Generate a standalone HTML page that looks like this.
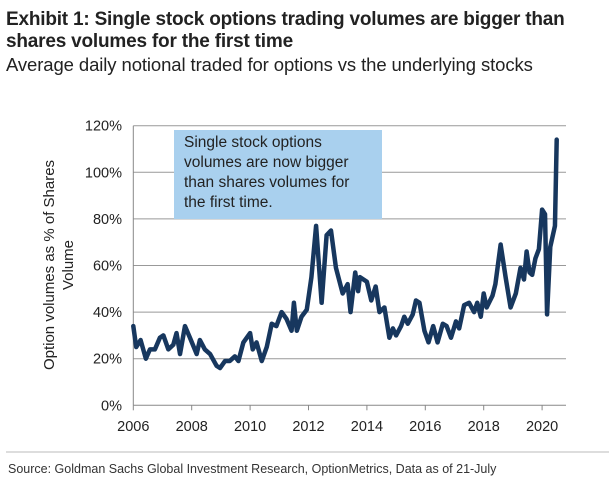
<!DOCTYPE html>
<html><head><meta charset="utf-8"><style>
body{margin:0;background:#fff;font-family:"Liberation Sans",Arial,sans-serif;}
#wrap{position:relative;width:615px;height:489px;overflow:hidden;}
.t{position:absolute;left:6px;color:#222;white-space:nowrap;}
</style></head><body>
<div id="wrap">
<div class="t" style="top:9px;font-size:19px;font-weight:bold;line-height:22px;letter-spacing:-0.2px;">Exhibit 1: Single stock options trading volumes are bigger than<br>shares volumes for the first time</div>
<div class="t" style="top:54px;font-size:18.5px;letter-spacing:-0.1px;">Average daily notional traded for options vs the underlying stocks</div>
<svg id="svg" width="615" height="489" style="position:absolute;left:0;top:0"></svg>
<div style="position:absolute;left:174px;top:130px;width:198px;height:77px;background:#a9d0ee;padding:3px 0 9px 10px;font-size:15.5px;line-height:20px;color:#222;white-space:nowrap;">Single stock options<br>volumes are now bigger<br>than shares volumes for<br>the first time.</div>
<div class="t" style="top:462px;left:8px;font-size:12.5px;color:#333;">Source: Goldman Sachs Global Investment Research, OptionMetrics, Data as of 21-July</div>
</div>
<script>
const years=[2006.0,2006.1,2006.25,2006.43,2006.57,2006.74,2006.91,2007.03,2007.2,2007.37,2007.48,2007.6,2007.77,2007.94,2008.17,2008.28,2008.45,2008.63,2008.85,2008.97,2009.14,2009.3,2009.48,2009.6,2009.77,2010.0,2010.09,2010.22,2010.4,2010.57,2010.74,2010.9,2011.08,2011.25,2011.42,2011.5,2011.6,2011.76,2011.94,2012.1,2012.26,2012.45,2012.62,2012.77,2012.94,2013.17,2013.34,2013.44,2013.6,2013.7,2013.76,2014.0,2014.15,2014.3,2014.43,2014.6,2014.77,2014.89,2015.0,2015.17,2015.28,2015.4,2015.57,2015.68,2015.8,2015.97,2016.11,2016.27,2016.42,2016.6,2016.73,2016.88,2017.05,2017.16,2017.33,2017.5,2017.67,2017.78,2017.9,2018.0,2018.1,2018.3,2018.4,2018.58,2018.75,2018.92,2019.1,2019.26,2019.38,2019.47,2019.57,2019.66,2019.77,2019.89,2020.0,2020.1,2020.17,2020.28,2020.44,2020.5];
const values=[34,25,28,20,24,24,29,30,24,26,31,22,34,29,22,28,24,22,17,16,19,19,21,19,27,31,24,27,19,25,35,34,40,37,32,44,32,38,41,55,77,44,73,75,59,48,52,40,57,49,55,53,45,51,40,42,29,33,30,34,38,35,39,45,44,32,27,34,27,35,34,29,36,33,43,44,40,44,38,48,42,47,52,69,55,42,48,59,54,66,57,56,63,67,84,82,39,68,77,114];
const yTicks=[0,20,40,60,80,100,120];
const xTicks=[2006,2008,2010,2012,2014,2016,2018,2020];
const NS="http://www.w3.org/2000/svg",svg=document.getElementById('svg');
const X0=133.3,X1=566,Y0=405.3,PX=29.2,PY=46.6/20;
const xs=y=>X0+(y-2006)*PX, ys=v=>Y0-v*PY;
function mk(t,a){const e=document.createElementNS(NS,t);for(const k in a)e.setAttribute(k,a[k]);svg.appendChild(e);return e;}
yTicks.forEach(v=>{
 const l=mk('line',{x1:X0,x2:X1,y1:ys(v),y2:ys(v),stroke:v===0?'#888':'#999','stroke-width':1});
 
 
 const t=mk('text',{x:122,y:ys(v)+5,'text-anchor':'end','font-size':14.5,fill:'#222','font-family':'Liberation Sans, sans-serif'});
 t.textContent=v+'%';
 
 
});
const ax=mk('line',{x1:X0,x2:X0,y1:ys(120),y2:Y0,stroke:'#888','stroke-width':1});


xTicks.forEach(yr=>{
 const l=mk('line',{x1:xs(yr),x2:xs(yr),y1:Y0,y2:Y0+5,stroke:'#888'});
 
 
 const t=mk('text',{x:xs(yr),y:431,'text-anchor':'middle','font-size':14.5,fill:'#222','font-family':'Liberation Sans, sans-serif'});
 t.textContent=yr;
 
 
});
const yt=mk('text',{transform:'translate(58,265) rotate(-90)','text-anchor':'middle','font-size':15,fill:'#222','font-family':'Liberation Sans, sans-serif'});


const t1=document.createElementNS(NS,'tspan');t1.setAttribute('x',0);t1.setAttribute('dy',-4);t1.textContent='Option volumes as % of  Shares';yt.appendChild(t1);
const t2=document.createElementNS(NS,'tspan');t2.setAttribute('x',0);t2.setAttribute('dy',19);t2.textContent='Volume';yt.appendChild(t2);
const sep=mk('line',{x1:6,x2:609,y1:452,y2:452,stroke:'#bbb'});


const p=mk('polyline',{points:years.map((y,i)=>xs(y)+','+ys(values[i])).join(' '),fill:'none',stroke:'#17375e','stroke-width':4.5,'stroke-linejoin':'round','stroke-linecap':'round'});


</script>
</body></html>
